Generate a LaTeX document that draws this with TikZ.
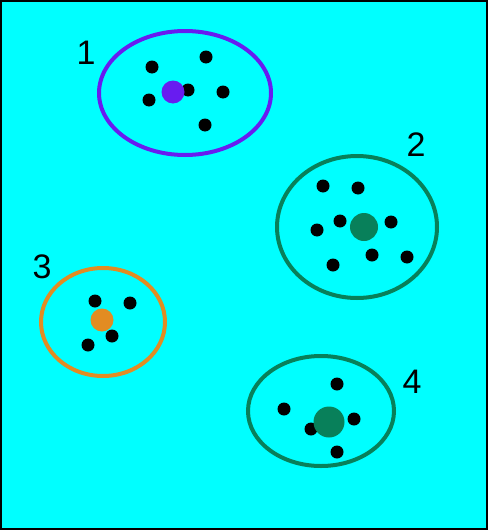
\documentclass[tikz,border=0pt]{standalone}
\usepackage{fontspec}
\setsansfont{Liberation Sans}
\usetikzlibrary{positioning}

\definecolor{bgcyan}{RGB}{0,255,255}
\definecolor{clpurple}{RGB}{104,28,240}
\definecolor{clgreen}{RGB}{8,128,90}
\definecolor{clorange}{RGB}{226,140,34}

\begin{document}
\begin{tikzpicture}[
  x=1pt, y=-1pt,
  font=\fontsize{34}{34}\selectfont\sffamily,
  pt/.style={circle, fill=black, inner sep=0pt, minimum size=13pt},
  centre/.style={circle, inner sep=0pt, minimum size=#1},
  ring/.style={line width=4pt},
  num/.style={inner sep=0pt, anchor=center}
]

% fond et cadre
\useasboundingbox (0,0) rectangle (488,530);
\fill[bgcyan] (0,0) rectangle (488,530);
\draw[line width=2pt] (1,1) rectangle (487,529);

% groupe 1
\draw[ring, draw=clpurple] (185,93) ellipse [x radius=86, y radius=62];
\node[pt] (a1) at (152,67) {};
\node[pt] (a2) at (206,57) {};
\node[pt] (a3) at (149,100) {};
\node[pt] (a4) at (188,90) {};
\node[pt] (a5) at (223,92) {};
\node[pt] (a6) at (205,125) {};
\node[centre=23pt, fill=clpurple] (c1) at (173,92) {};
\node[num] (n1) at (86,53) {1};

% groupe 2
\draw[ring, draw=clgreen] (357,227) ellipse [x radius=80, y radius=71];
\node[pt] (b1) at (323,186) {};
\node[pt] (b2) at (358,188) {};
\node[pt] (b3) at (340,221) {};
\node[pt] (b4) at (391,222) {};
\node[pt] (b5) at (317,230) {};
\node[pt] (b6) at (372,255) {};
\node[pt] (b7) at (407,257) {};
\node[pt] (b8) at (333,265) {};
\node[centre=28pt, fill=clgreen] (c2) at (364,227) {};
\node[num] (n2) at (416,145) {2};

% groupe 3
\draw[ring, draw=clorange] (103,322) ellipse [x radius=62, y radius=54];
\node[pt] (d1) at (95,301) {};
\node[pt] (d2) at (130,303) {};
\node[pt] (d3) at (112,336) {};
\node[pt] (d4) at (88,345) {};
\node[centre=23pt, fill=clorange] (c3) at (102,320) {};
\node[num] (n3) at (42,267) {3};

% groupe 4
\draw[ring, draw=clgreen] (321,411) ellipse [x radius=73, y radius=55];
\node[pt] (e1) at (337,384) {};
\node[pt] (e2) at (284,409) {};
\node[pt] (e3) at (354,419) {};
\node[pt] (e4) at (311,429) {};
\node[pt] (e5) at (337,452) {};
\node[centre=31pt, fill=clgreen] (c4) at (329,422) {};
\node[num] (n4) at (412,382) {4};

\end{tikzpicture}
\end{document}
